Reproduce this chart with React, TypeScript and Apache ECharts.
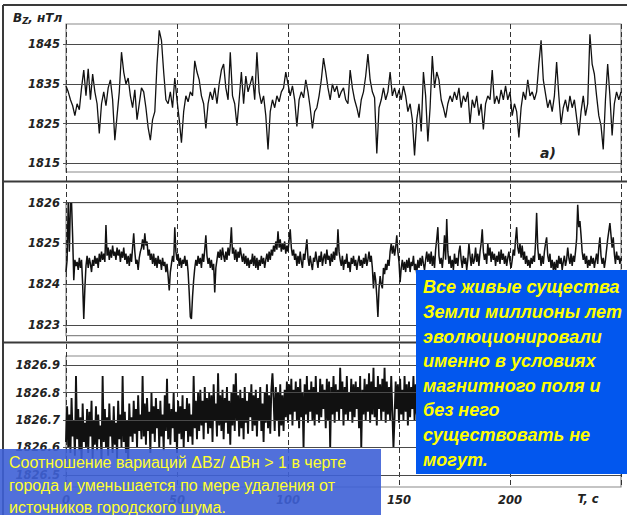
import React, { useEffect, useRef } from "react";
import * as echarts from "echarts";

// ---------- DATA ----------
const xTicks = [0, 50, 100, 150, 200];
const ticksP1 = [1815, 1825, 1835, 1845];
const ticksP2 = [1823, 1824, 1825, 1826];
const ticksP3 = [1826.5, 1826.6, 1826.7, 1826.8, 1826.9];

const stepP1 = 1; // s
const stepP2 = 0.5; // s
const stepP3 = 0.5; // s

const bzP1 = [
  1834.5, 1833, 1831, 1829.5, 1827, 1830, 1828.5, 1834, 1838.5, 1832,
  1838.8, 1831, 1837.5, 1833, 1830, 1822.5, 1830, 1833, 1829.5, 1834,
  1836, 1831, 1820.8, 1827, 1833, 1843, 1838, 1835, 1836.5, 1832,
  1829, 1833.5, 1826, 1830, 1834, 1833, 1829, 1824, 1820.8, 1826,
  1828, 1840, 1848.5, 1846, 1838, 1831, 1830, 1833, 1829, 1836.5,
  1831, 1826, 1820.2, 1828, 1832, 1830.5, 1833, 1832, 1840.8, 1838,
  1836, 1832, 1830, 1823.8, 1830, 1833, 1831, 1834, 1830, 1835,
  1838.5, 1840, 1834, 1831, 1843, 1832, 1830, 1824.5, 1831, 1838,
  1830, 1837, 1833, 1835, 1837, 1831, 1843, 1833, 1830, 1832,
  1827, 1818.5, 1828, 1831, 1829, 1832, 1830.5, 1833, 1834, 1838,
  1835, 1832, 1834.5, 1831, 1824.3, 1831, 1833, 1831.5, 1836, 1833,
  1829, 1823.8, 1828, 1829, 1832, 1836, 1841.5, 1838, 1834, 1831,
  1835, 1833, 1834.5, 1831.5, 1833, 1834, 1831, 1830, 1838.5, 1834,
  1831, 1829, 1826.5, 1831, 1833, 1837, 1842.5, 1836, 1833, 1831.5,
  1817.5, 1829, 1831, 1834, 1831, 1833, 1838, 1832, 1834, 1831.5,
  1833.5, 1831, 1834.5, 1832, 1828, 1830, 1826, 1817, 1826, 1830,
  1823, 1838, 1832, 1820.5, 1829, 1842, 1834, 1838, 1836, 1831,
  1829, 1826.5, 1830, 1832, 1830.5, 1833, 1831, 1834, 1829, 1832,
  1830.5, 1833, 1825, 1831, 1829, 1832, 1827, 1830, 1823.5, 1830,
  1832, 1831, 1838.5, 1830, 1832, 1830, 1833.5, 1831, 1834.5, 1831,
  1833, 1827, 1830, 1828, 1821.5, 1829, 1833, 1831, 1836, 1832,
  1833, 1831, 1833, 1840, 1846, 1836, 1832.5, 1829, 1831, 1828,
  1832, 1840.5, 1832, 1824.8, 1829, 1831, 1828, 1832, 1829, 1831,
  1826.5, 1822, 1828, 1832, 1827, 1830, 1847.5, 1840, 1837.5, 1832,
  1827, 1824.5, 1818.5, 1831, 1840, 1832, 1822, 1830, 1833, 1831, 1833,
];

const bzP2 = [
  1824.3, 1824.6, 1826.0, 1824.8, 1826.0, 1826.0, 1825.15, 1824.1, 1824.6, 1824.45,
  1824.55, 1824.35, 1824.65, 1824.4, 1824.6, 1824.0, 1823.15, 1823.9, 1824.45, 1824.7,
  1824.4, 1824.65, 1824.5, 1824.3, 1824.6, 1824.45, 1824.7, 1824.5, 1824.65, 1824.4,
  1824.75, 1824.55, 1824.8, 1824.6, 1824.75, 1824.55, 1825.45, 1824.7, 1824.9, 1824.6,
  1824.85, 1824.65, 1824.95, 1824.7, 1824.8, 1824.6, 1824.9, 1824.7, 1824.85, 1824.55,
  1824.8, 1824.65, 1824.9, 1824.6, 1824.75, 1824.5, 1824.7, 1824.45, 1824.75, 1824.55,
  1824.9, 1825.25, 1824.8, 1824.5, 1824.6, 1824.35, 1824.65, 1824.8, 1824.9, 1825.1,
  1824.85, 1825.25, 1824.95, 1825.05, 1824.7, 1824.85, 1824.6, 1824.75, 1824.5, 1824.75,
  1824.45, 1824.65, 1824.4, 1824.7, 1824.5, 1824.6, 1824.35, 1824.65, 1824.45, 1824.55,
  1824.3, 1824.5, 1824.2, 1823.85, 1824.3, 1824.5, 1824.7, 1824.55, 1825.4, 1824.8,
  1824.6, 1824.75, 1824.45, 1824.65, 1824.4, 1824.6, 1824.5, 1824.7, 1824.45, 1824.6,
  1824.3, 1823.8, 1823.2, 1823.15, 1823.7, 1824.1, 1824.4, 1824.6, 1824.45, 1824.7,
  1824.5, 1824.65, 1824.4, 1824.75, 1824.55, 1824.85, 1825.2, 1824.7, 1824.5, 1824.65,
  1824.4, 1824.6, 1824.35, 1824.5, 1823.8, 1824.4, 1824.6, 1824.8, 1824.65, 1824.85,
  1824.6, 1824.9, 1824.7, 1824.55, 1824.8, 1824.6, 1824.9, 1824.7, 1824.95, 1825.4,
  1824.75, 1824.9, 1824.6, 1824.85, 1824.55, 1824.8, 1824.65, 1824.9, 1824.7, 1824.55,
  1824.75, 1824.5, 1824.7, 1824.45, 1824.65, 1824.4, 1824.6, 1824.5, 1824.75, 1824.45,
  1824.7, 1824.4, 1824.65, 1824.35, 1824.6, 1824.45, 1824.7, 1824.5, 1824.65, 1824.4,
  1824.6, 1824.75, 1824.55, 1824.8, 1824.6, 1824.85, 1824.7, 1824.95, 1824.8, 1825.05,
  1824.85, 1825.3, 1824.9, 1825.1, 1824.8, 1825.0, 1824.85, 1825.05, 1824.75, 1824.95,
  1824.8, 1825.1, 1825.35, 1824.9, 1824.7, 1824.85, 1824.6, 1824.75, 1824.45, 1824.7,
  1824.5, 1824.8, 1824.55, 1824.4, 1824.75, 1824.6, 1824.85, 1825.1, 1824.65, 1824.45,
  1824.7, 1824.5, 1824.35, 1824.65, 1824.55, 1824.8, 1824.6, 1824.4, 1824.7, 1824.55,
  1824.8, 1824.45, 1824.65, 1824.75, 1824.5, 1824.85, 1824.6, 1824.7, 1824.45, 1824.75,
  1824.55, 1824.8, 1824.6, 1824.9, 1824.7, 1825.35, 1824.8, 1824.6, 1824.45, 1824.7,
  1824.35, 1824.6, 1824.5, 1824.75, 1824.4, 1824.55, 1824.3, 1824.65, 1824.5, 1824.7,
  1824.45, 1824.6, 1824.35, 1824.55, 1824.7, 1824.45, 1824.6, 1824.4, 1824.65, 1824.5,
  1824.75, 1824.45, 1824.6, 1824.8, 1824.55, 1824.7, 1824.4, 1823.9, 1824.3, 1824.1,
  1823.7, 1823.2, 1823.9, 1824.2, 1824.0, 1823.9, 1824.4, 1824.25, 1824.5, 1824.35,
  1824.6, 1824.45, 1824.8, 1825.0, 1824.75, 1824.95, 1824.7, 1824.9, 1825.2, 1824.8,
  1824.55, 1824.05, 1824.4, 1824.6, 1824.35, 1824.55, 1824.3, 1824.6, 1824.4, 1824.65,
  1824.3, 1824.55, 1824.45, 1824.7, 1824.35, 1824.5, 1824.25, 1824.6, 1824.4, 1824.65,
  1824.45, 1824.7, 1824.5, 1824.35, 1824.6, 1824.8, 1824.55, 1824.75, 1824.5, 1824.8,
  1824.45, 1824.7, 1824.4, 1824.85, 1825.1, 1825.4, 1824.7, 1824.5, 1824.65, 1824.4,
  1824.7, 1825.2, 1824.6, 1825.6, 1824.8, 1824.5, 1824.7, 1824.4, 1824.6, 1824.35,
  1824.75, 1824.5, 1824.65, 1824.45, 1824.8, 1824.95, 1824.6, 1824.4, 1824.7, 1824.5,
  1824.65, 1824.35, 1824.6, 1825.0, 1824.7, 1824.45, 1824.75, 1824.5, 1824.6, 1824.9,
  1824.55, 1824.75, 1824.45, 1824.8, 1825.0, 1825.35, 1824.8, 1824.6, 1824.75, 1824.5,
  1825.0, 1824.7, 1824.9, 1824.55, 1824.8, 1824.6, 1824.75, 1824.45, 1824.7, 1824.55,
  1824.8, 1824.5, 1824.85, 1824.6, 1824.75, 1824.5, 1824.7, 1824.45, 1824.65, 1824.8,
  1824.55, 1824.4, 1824.6, 1824.85, 1824.7, 1825.1, 1825.4, 1824.9, 1824.75, 1825.0,
  1824.65, 1824.95, 1824.6, 1824.8, 1824.5, 1824.7, 1824.45, 1824.6, 1824.4, 1824.65,
  1824.5, 1824.7, 1824.55, 1825.0, 1825.75, 1824.9, 1824.6, 1824.75, 1824.45, 1824.7,
  1824.5, 1824.8, 1825.0, 1825.15, 1824.7, 1824.55, 1824.75, 1824.4, 1824.6, 1824.35,
  1824.55, 1824.3, 1824.6, 1824.4, 1824.7, 1824.5, 1824.65, 1824.35, 1824.55, 1824.7,
  1824.45, 1824.6, 1824.9, 1824.65, 1824.5, 1824.75, 1824.45, 1824.7, 1824.55, 1824.8,
  1825.1, 1825.95, 1825.4, 1825.55, 1825.2, 1824.8, 1824.6, 1824.75, 1824.5, 1824.7,
  1824.4, 1824.6, 1824.45, 1824.7, 1824.5, 1824.65, 1824.4, 1824.6, 1824.75, 1824.5,
  1824.9, 1825.15, 1824.7, 1824.5, 1824.65, 1824.4, 1824.6, 1824.85, 1825.1, 1825.3,
  1825.5, 1825.2, 1824.9, 1825.15, 1824.75, 1824.5, 1824.8, 1824.6, 1824.7, 1824.5,
  1824.65,
];

const bzP3 = [
  1826.62, 1826.75, 1826.6, 1826.72, 1826.58, 1826.78, 1826.64, 1826.7, 1826.57, 1826.86,
  1826.63, 1826.74, 1826.59, 1826.71, 1826.55, 1826.76, 1826.62, 1826.69, 1826.6, 1826.74,
  1826.58, 1826.73, 1826.64, 1826.77, 1826.56, 1826.7, 1826.61, 1826.75, 1826.59, 1826.72,
  1826.63, 1826.68, 1826.55, 1826.86, 1826.62, 1826.74, 1826.6, 1826.71, 1826.57, 1826.76,
  1826.64, 1826.7, 1826.58, 1826.75, 1826.61, 1826.69, 1826.56, 1826.77, 1826.63, 1826.72,
  1826.6, 1826.86, 1826.62, 1826.73, 1826.58, 1826.7, 1826.54, 1826.76, 1826.64, 1826.71,
  1826.62, 1826.77, 1826.65, 1826.74, 1826.6, 1826.79, 1826.66, 1826.72, 1826.63, 1826.86,
  1826.64, 1826.76, 1826.61, 1826.78, 1826.66, 1826.73, 1826.58, 1826.8, 1826.65, 1826.75,
  1826.62, 1826.78, 1826.67, 1826.74, 1826.6, 1826.77, 1826.64, 1826.72, 1826.59, 1826.79,
  1826.66, 1826.85, 1826.63, 1826.76, 1826.61, 1826.74, 1826.67, 1826.8, 1826.62, 1826.73,
  1826.58, 1826.77, 1826.65, 1826.75, 1826.63, 1826.79, 1826.6, 1826.74, 1826.66, 1826.78,
  1826.62, 1826.76, 1826.64, 1826.72, 1826.61, 1826.86, 1826.67, 1826.77, 1826.63, 1826.8,
  1826.66, 1826.81, 1826.68, 1826.77, 1826.63, 1826.82, 1826.69, 1826.78, 1826.65, 1826.8,
  1826.67, 1826.79, 1826.62, 1826.83, 1826.7, 1826.76, 1826.64, 1826.87, 1826.68, 1826.79,
  1826.66, 1826.81, 1826.63, 1826.78, 1826.69, 1826.82, 1826.65, 1826.77, 1826.61, 1826.8,
  1826.68, 1826.83, 1826.66, 1826.87, 1826.7, 1826.79, 1826.64, 1826.81, 1826.67, 1826.78,
  1826.63, 1826.82, 1826.69, 1826.77, 1826.65, 1826.8, 1826.71, 1826.83, 1826.66, 1826.79,
  1826.68, 1826.81, 1826.64, 1826.78, 1826.7, 1826.82, 1826.66, 1826.76, 1826.62, 1826.8,
  1826.69, 1826.83, 1826.67, 1826.79, 1826.65, 1826.81, 1826.87, 1826.78, 1826.66, 1826.82,
  1826.7, 1826.8, 1826.64, 1826.83, 1826.68, 1826.79, 1826.66, 1826.81, 1826.71, 1826.84,
  1826.69, 1826.83, 1826.72, 1826.85, 1826.68, 1826.81, 1826.73, 1826.84, 1826.7, 1826.82,
  1826.67, 1826.85, 1826.71, 1826.8, 1826.6, 1826.83, 1826.72, 1826.86, 1826.69, 1826.81,
  1826.73, 1826.84, 1826.7, 1826.82, 1826.68, 1826.86, 1826.72, 1826.8, 1826.69, 1826.85,
  1826.71, 1826.83, 1826.74, 1826.81, 1826.67, 1826.85, 1826.7, 1826.84, 1826.6, 1826.82,
  1826.72, 1826.86, 1826.69, 1826.83, 1826.73, 1826.81, 1826.7, 1826.89, 1826.74, 1826.84,
  1826.68, 1826.82, 1826.72, 1826.86, 1826.7, 1826.8, 1826.73, 1826.85, 1826.69, 1826.83,
  1826.71, 1826.84, 1826.74, 1826.82, 1826.67, 1826.86, 1826.6, 1826.81, 1826.72, 1826.85,
  1826.7, 1826.83, 1826.73, 1826.87, 1826.69, 1826.84, 1826.72, 1826.89, 1826.71, 1826.82,
  1826.68, 1826.86, 1826.74, 1826.83, 1826.7, 1826.85, 1826.73, 1826.89, 1826.69, 1826.84,
  1826.72, 1826.82, 1826.7, 1826.86, 1826.73, 1826.6, 1826.71, 1826.84, 1826.74, 1826.83,
  1826.69, 1826.85, 1826.72, 1826.81, 1826.7, 1826.86, 1826.73, 1826.83, 1826.68, 1826.84,
  1826.71, 1826.82, 1826.74, 1826.86, 1826.7, 1826.83, 1826.72, 1826.85, 1826.69, 1826.84, 1826.72,
];

const noteBottom = [
  "Соотношение вариаций ΔBz/ ΔBн > 1 в черте",
  "города и уменьшается по мере удаления от",
  "источников городского шума.",
];
const noteRight = [
  "Все живые существа",
  "Земли миллионы лет",
  "эволюционировали",
  "именно в условиях",
  "магнитного поля и",
  "без него",
  "существовать не",
  "могут.",
];

// ---------- LAYOUT ----------
const W = 627;
const H = 515;
const PLOT_LEFT = 66;
const PLOT_WIDTH = 555;

const panels = [
  { top: 24, height: 148, min: 1812.8, max: 1850.1, ticks: ticksP1, dec: 0, data: bzP1, step: stepP1, lw: 1.3 },
  { top: 202.7, height: 133, min: 1822.74, max: 1826.0, ticks: ticksP2, dec: 0, data: bzP2, step: stepP2, lw: 1.5 },
  { top: 356, height: 131, min: 1826.456, max: 1826.933, ticks: ticksP3, dec: 1, data: bzP3, step: stepP3, lw: 1.9 },
];

const labelFont = {
  fontFamily: "DejaVu Sans",
  fontWeight: "bold" as const,
  fontStyle: "italic" as const,
  fontSize: 11.5,
  color: "#222",
};

export default function App() {
  const ref = useRef<HTMLDivElement>(null);

  useEffect(() => {
    if (!ref.current) return;
    const chart = echarts.init(ref.current, undefined, { renderer: "svg" });

    const grids: any[] = [
      { left: PLOT_LEFT, top: 24, width: PLOT_WIDTH, height: 463, show: false },
      ...panels.map((p) => ({
        left: PLOT_LEFT,
        top: p.top,
        width: PLOT_WIDTH,
        height: p.height,
        show: true,
        borderColor: "#8a8a8a",
        borderWidth: 1.2,
        backgroundColor: "transparent",
      })),
    ];

    const xAxes: any[] = [
      {
        gridIndex: 0,
        type: "value",
        min: 0,
        max: 250,
        interval: 50,
        axisLine: { show: false },
        axisTick: { show: false },
        axisLabel: {
          ...labelFont,
          margin: 7,
          formatter: (v: number) => (xTicks.includes(v) ? String(v) : ""),
        },
        splitLine: {
          show: true,
          lineStyle: { color: "#333", width: 1, type: [5, 3] },
        },
      },
      ...panels.map((_, i) => ({
        gridIndex: i + 1,
        type: "value",
        min: 0,
        max: 250,
        show: false,
      })),
    ];

    const yAxes: any[] = [
      { gridIndex: 0, type: "value", min: 0, max: 1, show: false },
      ...panels.map((p, i) => ({
        gridIndex: i + 1,
        type: "value",
        min: p.min,
        max: p.max,
        axisLine: { show: false },
        axisTick: {
          show: true,
          customValues: p.ticks,
          length: 3,
          lineStyle: { color: "#555", width: 1 },
        },
        axisLabel: {
          ...labelFont,
          customValues: p.ticks,
          margin: 6,
          formatter: (v: number) => v.toFixed(p.dec),
        },
        splitLine: { show: false },
      })),
    ];

    const series: any[] = panels.map((p, i) => ({
      type: "line",
      xAxisIndex: i + 1,
      yAxisIndex: i + 1,
      data: p.data.map((v, k) => [k * p.step, v]),
      showSymbol: false,
      symbol: "none",
      lineStyle: { color: "#111", width: p.lw },
      silent: true,
      z: 3,
      markLine: {
        silent: true,
        symbol: ["none", "none"],
        label: { show: false },
        lineStyle: { color: "#4a4a4a", type: "solid", width: 1.2 },
        data: p.ticks.map((t) => ({ yAxis: t })),
      },
    }));

    const frameLine = (x1: number, y1: number, x2: number, y2: number) => ({
      type: "line",
      silent: true,
      z: 50,
      shape: { x1, y1, x2, y2 },
      style: { stroke: "#3a3a3a", lineWidth: 2 },
    });

    const graphic: any[] = [
      frameLine(3, 5, W, 5),
      frameLine(3, 5, 3, H),
      frameLine(3, 181.5, W, 181.5),
      frameLine(3, 342.5, W, 342.5),
      {
        type: "text",
        z: 50,
        silent: true,
        style: {
          x: 13,
          y: 18,
          verticalAlign: "middle",
          text: "{b|B}{s|Z}{b|, нТл}",
          rich: {
            b: { fontFamily: "DejaVu Sans", fontWeight: "bold", fontStyle: "italic", fontSize: 12, fill: "#222" },
            s: { fontFamily: "DejaVu Sans", fontWeight: "bold", fontStyle: "italic", fontSize: 8.5, fill: "#222", padding: [5, 0, 0, 0] },
          },
        },
      },
      {
        type: "text",
        z: 50,
        silent: true,
        style: {
          x: 540,
          y: 153,
          verticalAlign: "middle",
          text: "a)",
          font: 'bold italic 14px "DejaVu Sans"',
          fill: "#222",
        },
      },
      {
        type: "text",
        z: 50,
        silent: true,
        style: {
          x: 588,
          y: 499,
          align: "center",
          verticalAlign: "middle",
          text: "T, c",
          font: 'bold italic 11.5px "DejaVu Sans"',
          fill: "#222",
        },
      },
      {
        type: "rect",
        z: 100,
        silent: true,
        shape: { x: 0, y: 449, width: 381, height: 70 },
        style: { fill: "rgba(62, 96, 214, 0.9)" },
      },
      {
        type: "text",
        z: 101,
        silent: true,
        style: {
          x: 9,
          y: 451.5,
          verticalAlign: "top",
          text: noteBottom.join("\n"),
          font: '16px "Liberation Sans"',
          lineHeight: 22.5,
          fill: "#ffff2e",
        },
      },
      {
        type: "rect",
        z: 100,
        silent: true,
        shape: { x: 416, y: 270, width: 215, height: 204 },
        style: { fill: "#0257ee" },
      },
      {
        type: "text",
        z: 101,
        silent: true,
        style: {
          x: 423,
          y: 275,
          verticalAlign: "top",
          text: noteRight.join("\n"),
          font: 'bold italic 18px "Liberation Sans"',
          lineHeight: 24.6,
          fill: "#ffff00",
        },
      },
    ];

    chart.setOption({
      animation: false,
      backgroundColor: "#ffffff",
      grid: grids,
      xAxis: xAxes,
      yAxis: yAxes,
      series,
      graphic,
    });

    return () => chart.dispose();
  }, []);

  return (
    <div
      ref={ref}
      style={{ position: "fixed", left: 0, top: 0, width: W, height: H, background: "#fff" }}
    />
  );
}
